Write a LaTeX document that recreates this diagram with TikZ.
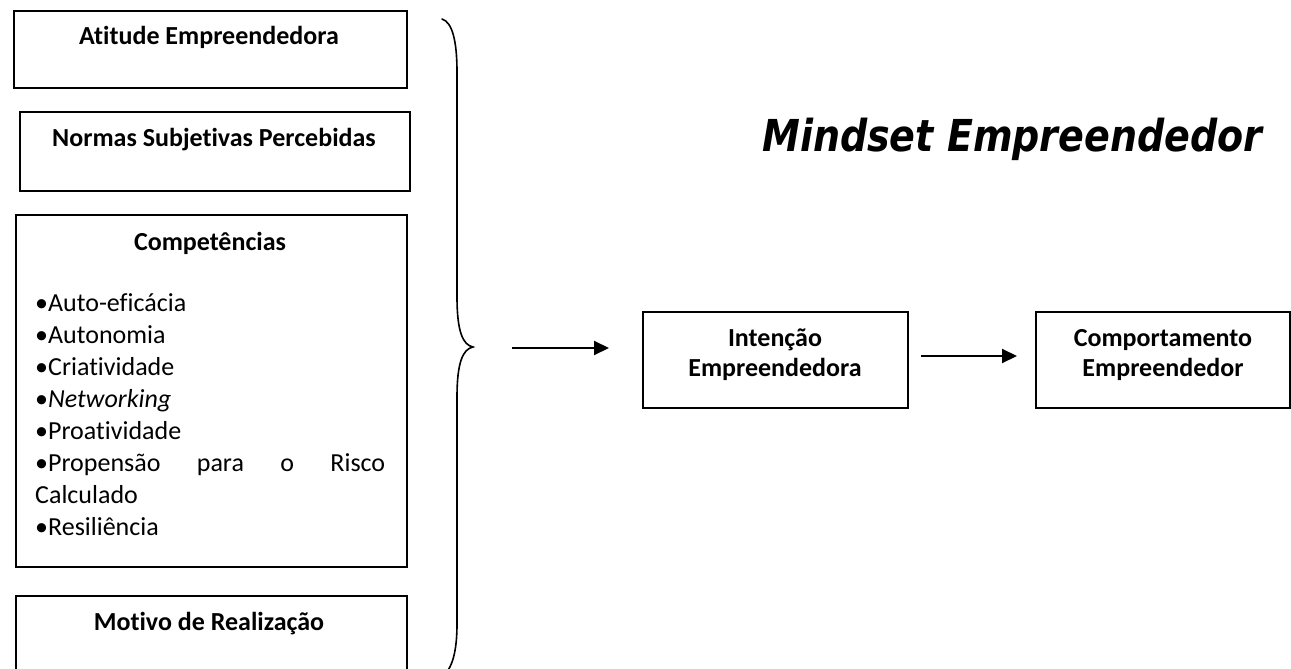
\documentclass[tikz,border=0pt]{standalone}
\usepackage{fontspec}
\setmainfont{Carlito}[Ligatures=NoCommon]
\newfontfamily\titlefont{DejaVu Sans Condensed}
\usetikzlibrary{arrows.meta}
\begin{document}
\begin{tikzpicture}[x=1pt,y=-1pt,
  box/.style={draw=black,line width=1.8pt,inner sep=0pt,anchor=north west},
  head/.style={inner sep=0pt,anchor=base,font=\fontsize{26}{30}\selectfont\bfseries},
  item/.style={inner sep=0pt,anchor=base west,font=\fontsize{26}{30}\selectfont},
  arr/.style={line width=2pt,-{Triangle[length=15pt,width=14pt]}},
  bracestyle/.style={line width=1.6pt,line cap=round}]
\useasboundingbox[fill=white] (0,0) rectangle (1291,669);
% left boxes
\node[box,minimum width=393pt,minimum height=77pt] (att) at (13,10) {};
\node[box,minimum width=390pt,minimum height=79pt] (nor) at (19,111) {};
\node[box,minimum width=391pt,minimum height=352pt] (comp) at (15,214) {};
\node[box,minimum width=391pt,minimum height=90pt] (mot) at (15,595) {};
\node[head] (tatt) at (209,45) {Atitude Empreendedora};
\node[head] (tnor) at (214,146) {Normas Subjetivas Percebidas};
\node[head] (tcomp) at (210,250) {Competências};
\node[head] (tmot) at (209,630) {Motivo de Realização};
% list
\node[item] (l1) at (35,311) {•Auto-eficácia};
\node[item] (l2) at (35,343) {•Autonomia};
\node[item] (l3) at (35,375) {•Criatividade};
\node[item] (l4) at (35,407) {•\textit{Networking}};
\node[item] (l5) at (35,439) {•Proatividade};
\node[item] (l6) at (35,471) {\makebox[350pt][s]{•Propensão para o Risco}};
\node[item] (l7) at (35,503) {Calculado};
\node[item] (l8) at (35,535) {•Resiliência};
% brace
\coordinate (btop) at (442,19);
\coordinate (btip) at (473,347);
\coordinate (bbot) at (442,676);
\draw[bracestyle] (btop) .. controls (452,22) and (457,40) .. (457,72)
  -- (457,297) .. controls (457,332) and (463,345) .. (btip)
  .. controls (463,349) and (457,362) .. (457,397)
  -- (457,624) .. controls (457,652) and (452,670) .. (bbot);
% right boxes
\node[box,minimum width=265pt,minimum height=96pt] (int) at (642,311) {};
\node[box,minimum width=254pt,minimum height=96pt] (cpt) at (1035,311) {};
\node[head] (tint1) at (775,346) {Intenção};
\node[head] (tint2) at (775,376) {Empreendedora};
\node[head] (tcpt1) at (1163,346) {Comportamento};
\node[head] (tcpt2) at (1163,376) {Empreendedor};
% arrows
\coordinate (a1s) at (512,348);
\coordinate (a1e) at (609,348);
\coordinate (a2s) at (921,356);
\coordinate (a2e) at (1017,356);
\draw[arr] (a1s) -- (a1e);
\draw[arr] (a2s) -- (a2e);
% title
\node[inner sep=0pt,anchor=base west,font=\titlefont\fontsize{44}{50}\selectfont\bfseries\itshape] (title) at (762,151) {\scalebox{0.96}[1]{Mindset Empreendedor}};
\end{tikzpicture}
\end{document}
